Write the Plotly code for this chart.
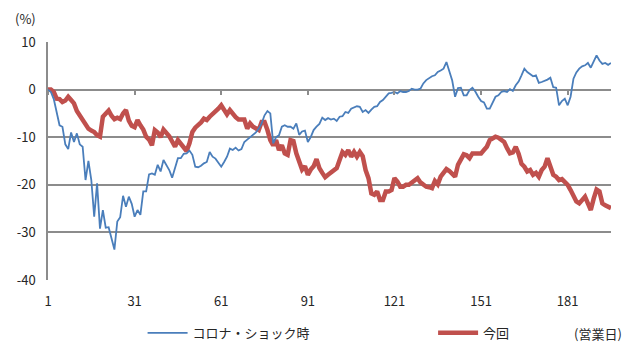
import plotly.graph_objects as go

# ---------------- data ----------------
days = list(range(1, 197))

corona_shock = [
    0, -0.5, -2, -4.5, -7.5, -7.8, -11.5, -12.5, -9, -11,
    -9.2, -11.5, -12, -19, -15, -19, -26.7, -19.7, -29.2, -25.3,
    -29, -28.9, -31.5, -33.6, -27.7, -26.8, -22.3, -24.6, -22.5, -24,
    -26.7, -25.3, -26.3, -21.4, -21.4, -17.8, -17.6, -17.9, -15.8, -17.2,
    -14.8, -16, -16.9, -18.5, -16.2, -14.4, -14.4, -13.5, -13.4, -12.8,
    -13.7, -16.2, -16.3, -16, -15.5, -15.2, -13.1, -14.1, -14.5, -15.5,
    -16.2, -15.2, -14.1, -12.4, -12.7, -12.2, -12.8, -12.5, -11, -10.5,
    -10, -9.6, -9, -8.2, -7.1, -5.4, -4.5, -5, -11.3, -10,
    -9.6, -7.8, -7.5, -7.8, -7.8, -8.2, -7.1, -9.5, -8.8, -8.6,
    -11, -10, -8.5, -7.8, -7.2, -5.9, -6.4, -6, -6.3, -6.1,
    -6.6, -5.7, -5.6, -4.7, -4.9, -4, -3.8, -3.5, -3.6, -4.7,
    -4.3, -4.9, -4.2, -3.6, -3.5, -2.6, -2.2, -1.5, -0.8, -0.7,
    -0.5, -0.8, -0.3, -0.5, -0.5, -0.3, 0.2, 0, 0, 0.2,
    1.3, 2, 2.5, 2.8, 3, 3.7, 4, 4.4, 5.8, 4,
    1.9, -1.5, 0.3, 0.4, -1.2, -1.2, -0.1, 0.4, -0.4, -1.5,
    -2.4, -2.7, -4, -4, -2.6, -1.5, -1.2, -0.5, -0.3, -0.5,
    0.1, -0.3, 0.9, 1.7, 3, 4.4, 3.7, 3.2, 2.8, 3,
    1.4, 1.6, 1.8, 2.1, 2.5, 0.5, 0.4, -3.3, -2.4, -1.9,
    -3.3, -1.5, 2.3, 3.6, 4.4, 4.9, 5.1, 5.6, 4.6, 5.8,
    7.2, 6.1, 5.4, 5.6, 5.2, 5.6,
]

current = [
    0, 0, -0.5, -1.9, -2, -2.6, -2.3, -1.5, -2.2, -2.9,
    -4.5, -5.4, -6.3, -7.5, -8.2, -8.6, -8.9, -9.6, -9.9, -5.7,
    -5, -4.4, -5.5, -6.2, -5.9, -6.2, -5, -4.3, -6.5, -7.6,
    -7.9, -6.4, -7.5, -8.4, -9.9, -10.5, -11.7, -8.5, -9, -10,
    -8.4, -9, -9.8, -10.9, -12, -10.6, -11.3, -12, -12.9, -11.3,
    -8.9, -8, -7.5, -6.9, -6.1, -6.4, -5.7, -5.2, -4.6, -4,
    -3.3, -4.5, -5.2, -4.3, -5.2, -5.8, -6.3, -6.4, -6.3, -8.2,
    -7.1, -7.8, -8.2, -8.5, -6.8, -6.8, -8.5, -10.6, -11.7, -10.6,
    -12.7, -11.7, -13.4, -13.7, -10.6, -10.8, -13.4, -15.1, -16.8, -16.1,
    -17.9, -16.8, -16.1, -14.6, -16.5, -17.5, -18.4, -17.9, -17.4, -16.8,
    -16.5, -14.8, -13.1, -13.7, -12.7, -14.1, -13.1, -14.1, -13.1, -14,
    -16.9, -18.6, -21.8, -22.1, -21.4, -23.2, -23.2, -21.4, -21.4, -21.1,
    -18.6, -19.3, -20.4, -20.4, -20, -20, -19.6, -19, -18.6, -19.5,
    -20, -20.4, -20.5, -20.7, -19.2, -19.9, -18.3, -17.6, -16.7, -17.1,
    -17.6, -18.3, -15.8, -14.8, -13.6, -13.8, -14.4, -13.4, -13.4, -13.5,
    -13.4, -12.7, -12, -10.6, -10.2, -9.9, -10.1, -10.6, -11, -12.3,
    -13.4, -13.2, -12, -13.5, -15.6, -16.2, -17.2, -16.9, -17.9, -17.5,
    -18.3, -16.9, -16.2, -14.4, -16.5, -17.9, -18.3, -19, -18.8, -19.5,
    -20, -21.1, -22.5, -23.5, -23.9, -23.2, -22.5, -23.9, -25.3, -22.9,
    -21, -21.4, -23.9, -24.3, -24.6, -24.9,
]

series_names = ["コロナ・ショック時", "今回"]
x_tick_vals = [1, 31, 61, 91, 121, 151, 181]
y_tick_vals = [-40, -30, -20, -10, 0, 10]

# ---------------- figure ----------------
FONT = "Noto Sans CJK JP"
GRID = "#8c8c8c"
TXT = "#262626"

fig = go.Figure()
fig.add_trace(go.Scatter(
    x=days, y=current, name=series_names[1], mode="lines",
    line=dict(color="#C0504D", width=4.5), legend="legend2",
))
fig.add_trace(go.Scatter(
    x=days, y=corona_shock, name=series_names[0], mode="lines",
    line=dict(color="#4A7EBB", width=1.8), legend="legend",
))

legend_common = dict(
    orientation="h", yanchor="middle", xanchor="left", itemwidth=40,
    font=dict(family=FONT, size=13, color=TXT),
    bgcolor="rgba(0,0,0,0)",
)

fig.update_layout(
    width=631, height=343,
    margin=dict(l=48, r=20, t=42, b=63, autoexpand=False),
    paper_bgcolor="white", plot_bgcolor="white",
    font=dict(family=FONT, size=13, color=TXT),
    showlegend=True,
    legend=dict(x=0.168, y=-0.222, **legend_common),
    legend2=dict(x=0.684, y=-0.222, **legend_common),
    xaxis=dict(
        range=[1, 196], tickmode="array", tickvals=x_tick_vals,
        ticktext=[str(v) for v in x_tick_vals],
        showgrid=False, zeroline=False, showline=False, ticks="",
        ticklabelstandoff=12,
        tickfont=dict(family=FONT, size=13, color=TXT),
    ),
    xaxis2=dict(
        range=[1, 196], overlaying="x", anchor="free", position=0.8,
        side="bottom", tickmode="array", tickvals=x_tick_vals,
        ticks="outside", ticklen=4, tickwidth=2, tickcolor=GRID,
        showticklabels=False, showgrid=False, zeroline=False, showline=False,
    ),
    yaxis=dict(
        range=[-40, 10], tickmode="array", tickvals=y_tick_vals,
        ticktext=[str(v) for v in y_tick_vals],
        showgrid=True, gridcolor=GRID, gridwidth=1.5,
        zeroline=False, showline=True, linecolor=GRID, linewidth=1.5,
        ticks="", ticklabelstandoff=8,
        tickfont=dict(family=FONT, size=13, color=TXT),
    ),
    annotations=[
        dict(text="(%)", xref="paper", yref="paper", x=-0.04, y=1.10,
             showarrow=False, xanchor="center", yanchor="middle",
             font=dict(family=FONT, size=13, color=TXT)),
        dict(text="(営業日)", xref="paper", yref="paper", x=0.977, y=-0.223,
             showarrow=False, xanchor="center", yanchor="middle",
             font=dict(family=FONT, size=13, color=TXT)),
    ],
)

# invisible trace to register the tick-mark axis at y = 0
fig.add_trace(go.Scatter(x=[1], y=[None], xaxis="x2", showlegend=False,
                         hoverinfo="skip"))

fig.write_html("out.html")
